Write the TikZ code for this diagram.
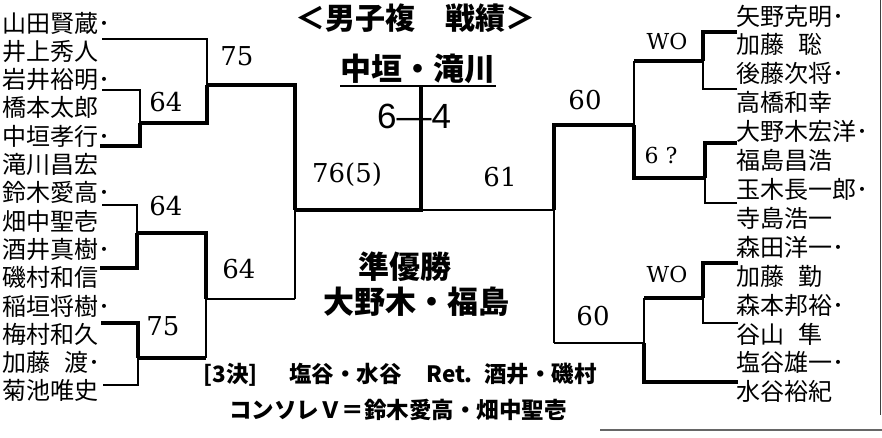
\documentclass[tikz,border=0pt]{standalone}
\usepackage{fontspec}
\usepackage{tikz}
\usetikzlibrary{calc, positioning}
\setmainfont{DejaVu Serif}
\newfontfamily\jp{Noto Sans CJK JP}
\newfontfamily\arial{Liberation Sans}

\begin{document}
\begin{tikzpicture}[x=1pt,y=-1pt,
    thickln/.style={line width=4pt},
    medln/.style={line width=2pt},
    thinln/.style={line width=1.1pt},
    player/.style={anchor=west,inner sep=0pt,font=\jp\fontsize{24}{24}\selectfont},
    score/.style={inner sep=0pt,font=\fontsize{26}{26}\selectfont},
    heading/.style={inner sep=0pt,font=\jp\bfseries\fontsize{31}{31}\selectfont},
    note/.style={inner sep=0pt,font=\jp\bfseries\fontsize{22.5}{23}\selectfont}]
\useasboundingbox (0,0) rectangle (882,438);

% Title
\node[heading,font=\jp\bfseries\fontsize{30}{30}\selectfont] (title) at (415,18) {＜男子複　戦績＞};

% Left players
\foreach \nm [count=\i] in {山田賢蔵･,井上秀人,岩井裕明･,橋本太郎,中垣孝行･,滝川昌宏,鈴木愛高･,畑中聖壱,酒井真樹･,磯村和信,稲垣将樹･,梅村和久,加藤\hspace{0.6em}渡･,菊池唯史}
    \node[player] (l\i) at (2,{23+28.3*(\i-1)}) {\nm};

% Right players
\foreach \nm [count=\i] in {矢野克明･,加藤\hspace{0.6em}聡,後藤次将･,高橋和幸,大野木宏洋･,福島昌浩,玉木長一郎･,寺島浩一,森田洋一･,加藤\hspace{0.6em}勤,森本邦裕･,谷山\hspace{0.6em}隼,塩谷雄一･,水谷裕紀}
    \node[player] (r\i) at (736,{16+28.9*(\i-1)}) {\nm};

% Team lines (left)
\coordinate (a1) at (102,39);
\coordinate (a2) at (102,90);
\coordinate (a3) at (100,146);
\coordinate (a4) at (102,205);
\coordinate (a5) at (100,268);
\coordinate (a6) at (101,323);
\coordinate (a7) at (103,385);

% Team lines (right)
\coordinate (b1) at (737,32);
\coordinate (b2) at (737,89);
\coordinate (b3) at (737,143);
\coordinate (b4) at (737,203);
\coordinate (b5) at (738,263);
\coordinate (b6) at (738,323);
\coordinate (b7) at (738,382);

% Match points
\coordinate (m1) at (140,123);
\coordinate (m2) at (207,85);
\coordinate (m3) at (137,233);
\coordinate (m4) at (138,358);
\coordinate (m5) at (206,299);
\coordinate (m6) at (295,210);
\coordinate (fin) at (421,86);
\coordinate (n1) at (703,61);
\coordinate (n2) at (705,178);
\coordinate (n3) at (634,125);
\coordinate (n4) at (703,298);
\coordinate (n5) at (644,343);
\coordinate (n6) at (554,210);

% Draw left bracket
\draw[thinln] (a1) -| (m2);
\draw[thinln] (a2) -| (m1);
\draw[thickln] (a3) -| (m1);
\draw[thickln] (m1) -| (m2);
\draw[thickln] (m2) -| (m6);
\draw[thinln] (a4) -| (m3);
\draw[thickln] (a5) -| (m3);
\draw[thickln] (a6) -| (m4);
\draw[thinln] (a7) -| (m4);
\draw[thickln] (m3) -| (m5);
\draw[thickln] (m4) -- (m4 -| m5);
\draw[thinln] (m4 -| m5) -- (m5);
\draw[medln] (m5) -- (m5 -| m6);
\draw[thinln] (m5 -| m6) -- (m6);
\draw[thickln] (m6) -| (fin);

% Draw right bracket
\draw[thickln] (b1) -| (n1);
\draw[thinln] (b2) -| (n1);
\draw[thickln] (b3) -| (n2);
\draw[thinln] (b4) -| (n2);
\draw[thickln] (n1) -- (n1 -| n3);
\draw[thinln] (n1 -| n3) -- (n3);
\draw[thickln] (n2) -| (n3);
\draw[thickln] (n3) -| (n6);
\draw[thickln] (b5) -| (n4);
\draw[thinln] (b6) -| (n4);
\draw[thickln] (n4) -- (n4 -| n5);
\draw[thinln] (n4 -| n5) -- (n5);
\draw[thickln] (b7) -| (n5);
\draw[medln] (n5) -- (n5 -| n6);
\draw[thinln] (n5 -| n6) -- (n6);
\draw[thinln] (n6) -- (n6 -| fin);

% Champion and final score
\node[heading] (champ) at (418,69) {中垣・滝川};
\draw[medln] (champ.west |- fin) -- (champ.east |- fin);
\node[inner sep=0pt,font=\arial\fontsize{35}{35}\selectfont] (final) at (414,116) {6—4};

% Scores
\node[score] (s1) at (237,56) {75};
\node[score] (s2) at (166,102) {64};
\node[score] (s3) at (166,206) {64};
\node[score] (s4) at (239,269) {64};
\node[score] (s5) at (163,326) {75};
\node[score] (s6) at (347,175) {76(5)};
\node[score] (s7) at (500,177) {61};
\node[score] (s8) at (585,100) {60};
\node[score,font=\fontsize{22}{22}\selectfont] (s9) at (667,41) {WO};
\node[score,font=\fontsize{22}{22}\selectfont] (s10) at (661,155) {6 ?};
\node[score,font=\fontsize{22}{22}\selectfont] (s11) at (667,274) {WO};
\node[score] (s12) at (593,316) {60};

% Runner-up
\node[heading] (runner) at (405,267) {準優勝};
\node[heading] (runnernm) at (416,302) {大野木・福島};

% Third place and consolation
\node[note] (third) at (400,375) {[3決]\hspace{1.4em}塩谷・水谷\hspace{1.1em}Ret.\hspace{0.5em}酒井・磯村};
\node[note] (conso) at (398,410) {コンソレＶ＝鈴木愛高・畑中聖壱};

% Page edges
\draw[thinln,black!75] (880.5,0) -- (880.5,415);
\draw[medln,black!60] (600,430) -- (882,430);
\end{tikzpicture}
\end{document}
